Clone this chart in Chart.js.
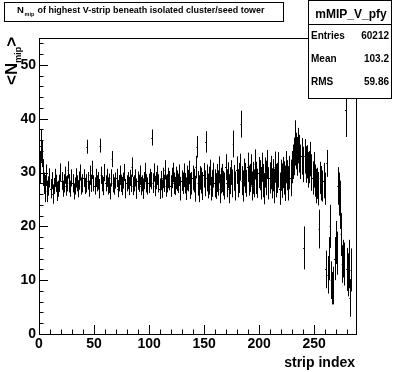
<!DOCTYPE html>
<html>
<head>
<meta charset="utf-8">
<script src="https://cdn.jsdelivr.net/npm/chart.js@4"></script>
<style>
html, body { margin: 0; padding: 0; background: #fff; }
canvas { display: block; }
</style>
</head>
<body>
<canvas id="chart" width="396" height="372"></canvas>
<script>
// profile: mean N_mip per strip (bin i -> strip i .. i+1)
const means = [
  31, 35, 33.5, 30, 28, 27, 29.5, 26.5, 27.5, 29,
  27, 28.5, 26, 27.5, 29, 28, 26.5, 27, 28, 30,
  28.5, 27, 28, 29.5, 27.5, 28, 30.5, 28, 27, 29,
  28, 26.5, 27.5, 29, 28, 27, 28.5, 30, 27.5, 28,
  29, 27.5, 28, 34.8, 28.5, 27, 29.5, 28, 30.5, 28,
  27.5, 29, 28, 28.5, 27, 35, 29.5, 28, 27.5, 30,
  28, 29, 27.5, 28, 26.5, 29, 32.5, 28, 27.5, 28.5,
  29, 27, 28, 29.5, 28, 27.5, 28.5, 30, 27, 28,
  28.5, 27.5, 29, 28, 31, 27.5, 28, 29, 27, 28.5,
  28, 29.5, 27.5, 28, 27, 28.5, 30, 28, 27.5, 28,
  29, 28.5, 36.5, 28, 30, 27.5, 28.5, 29.5, 28, 27,
  28.5, 27, 29, 28, 30.5, 27.5, 28, 29, 28.5, 27.5,
  29, 30, 28, 27.5, 29, 28.5, 28, 29.5, 27, 28.5,
  28, 29.5, 28, 27, 29, 28.5, 30, 27.5, 28, 29,
  28.5, 27, 31, 34.8, 28, 27, 29, 28.5, 27.5, 29.5,
  28, 35.7, 29, 27.5, 28.5, 30, 27, 28, 29.5, 28,
  27.5, 29, 28, 30.5, 27, 28.5, 29, 28, 27.5, 31,
  28, 29.5, 27, 28.5, 30, 28, 35.3, 29, 27.5, 30.5,
  28, 29, 31, 39, 28.5, 27.5, 30, 29, 28, 31,
  28.5, 29, 30.5, 27.5, 29, 28, 31.5, 29, 28, 30,
  29.5, 28, 31, 28.5, 27, 30, 29, 31.5, 28, 29,
  30, 28, 29.5, 27.5, 31, 28.5, 29, 30.5, 27, 29.5,
  28.5, 30, 29, 28, 31, 29.5, 28, 30, 29, 31,
  32, 33, 35.5, 34, 33, 35, 33.5, 32, 33, 31.5,
  16, 33, 31.5, 32, 30.5, 31, 32.5, 30, 29, 30.5,
  28.5, 27.5, 28, 27, 19.5, 29, 28, 27.5, 28.5, 27,
  12, 31.7, 11, 14, 20, 10, 8.5, 9, 14, 17,
  15, 27.5, 26, 24, 18.5, 13, 14, 13, 41.6, 12,
  11, 13, 6.7, 11.9
];
const errs = [
  3, 3, 2.5, 2.5, 2, 2.5, 2, 2, 1.8, 1.8,
  1.8, 1.6, 1.8, 1.5, 1.7, 1.6, 1.8, 1.5, 1.6, 1.7,
  1.6, 1.5, 1.7, 1.6, 1.8, 1.5, 1.6, 1.7, 1.5, 1.6,
  1.7, 1.5, 1.6, 1.8, 1.5, 1.6, 1.7, 1.5, 1.6, 1.7,
  1.6, 1.5, 1.7, 1.3, 1.6, 1.5, 1.8, 1.6, 1.7, 1.5,
  1.6, 1.7, 1.5, 1.6, 1.8, 1.3, 1.6, 1.5, 1.7, 1.6,
  1.5, 1.7, 1.6, 1.8, 1.5, 1.6, 1.5, 1.7, 1.6, 1.5,
  1.7, 1.6, 1.5, 1.8, 1.6, 1.7, 1.5, 1.6, 1.8, 1.5,
  1.6, 1.7, 1.5, 1.6, 1.8, 1.7, 1.5, 1.6, 1.9, 1.7,
  1.6, 1.8, 1.7, 1.5, 1.9, 1.6, 1.8, 1.7, 1.6, 1.8,
  1.7, 1.6, 1.5, 1.8, 1.7, 1.9, 1.6, 1.8, 1.7, 1.9,
  1.8, 1.7, 1.9, 1.6, 1.8, 2, 1.7, 1.9, 1.8, 2,
  1.9, 1.8, 2, 1.7, 2.1, 1.9, 1.8, 2, 2.2, 1.9,
  2, 2.2, 1.9, 2.1, 2.3, 2, 2.2, 2.4, 2.1, 2.3,
  2.2, 2.4, 2.1, 2, 2.3, 2.5, 2.2, 2.4, 2.6, 2.3,
  2.4, 2, 2.5, 2.3, 2.6, 2.4, 2.2, 2.5, 2.3, 2.6,
  2.4, 2.6, 2.3, 2.5, 2.7, 2.4, 2.6, 2.3, 2.5, 2.4,
  2.6, 2.4, 2.7, 2.5, 2.3, 2.6, 2.5, 2.4, 2.7, 2.5,
  2.6, 2.8, 2.5, 2.5, 2.7, 2.9, 2.6, 2.8, 2.5, 2.7,
  2.8, 2.6, 2.9, 2.7, 3, 2.6, 2.8, 3, 2.7, 2.9,
  2.8, 3, 2.7, 3.1, 2.9, 2.8, 3.2, 2.7, 3, 2.9,
  3.1, 2.8, 3, 3.2, 2.9, 3.1, 2.8, 3.3, 3, 2.9,
  3.2, 2.9, 3.1, 3.3, 3, 2.8, 3.2, 3.1, 3.4, 3,
  3.2, 3.5, 4.2, 3.4, 3.6, 3.3, 3.5, 3.2, 3.4, 3.3,
  4, 3.2, 3.4, 3.1, 3.3, 3, 3.2, 3.4, 3.1, 3.3,
  3, 3.2, 2.9, 3.1, 3.6, 3, 3.2, 2.9, 3.3, 3,
  3.5, 2.5, 3.5, 4, 4, 3.5, 3, 3.5, 4, 4,
  4, 3.5, 4, 4.5, 4, 3.5, 3.5, 4, 5, 4,
  4, 4.5, 3.5, 4
];
const xTicks = [0, 50, 100, 150, 200, 250];
const yTicks = [0, 10, 20, 30, 40, 50];
const statsLabels = ["Entries", "Mean", "RMS"];
const statsValues = ["60212", "103.2", "59.86"];

const FONT = "'Liberation Sans', Arial, Helvetica, sans-serif";

// bin centres
const points = means.map((m, i) => ({ x: i + 0.5, y: m }));

// ROOT-like frame, inward ticks, error bars and boxes
const rootStyle = {
  id: "rootStyle",
  afterDatasetsDraw(chart) {
    const ctx = chart.ctx;
    const a = chart.chartArea;
    const xs = chart.scales.x, ys = chart.scales.y;
    ctx.save();
    ctx.strokeStyle = "#000";
    ctx.lineWidth = 1;

    // error bars
    ctx.beginPath();
    means.forEach((m, i) => {
      const px = Math.round(xs.getPixelForValue(i + 0.5)) + 0.5;
      const y1 = ys.getPixelForValue(Math.max(0, m - errs[i]));
      const y2 = ys.getPixelForValue(m + errs[i]);
      ctx.moveTo(px, y1);
      ctx.lineTo(px, y2);
      const py = Math.round(ys.getPixelForValue(m)) + 0.5;
      ctx.moveTo(xs.getPixelForValue(i), py);
      ctx.lineTo(xs.getPixelForValue(i + 1), py);
    });
    ctx.stroke();

    // frame
    ctx.strokeRect(Math.round(a.left) + 0.5, Math.round(a.top) + 0.5,
      Math.round(a.right - a.left), Math.round(a.bottom - a.top));

    // ticks
    ctx.beginPath();
    for (let v = 0; v <= 288; v += 10) {
      const px = Math.round(xs.getPixelForValue(v)) + 0.5;
      const len = v % 50 === 0 ? 9 : 4.5;
      ctx.moveTo(px, a.bottom);
      ctx.lineTo(px, a.bottom - len);
    }
    for (let v = 0; v <= 55; v += 2) {
      const py = Math.round(ys.getPixelForValue(v)) + 0.5;
      const len = v % 10 === 0 ? 9 : 4.5;
      ctx.moveTo(a.left, py);
      ctx.lineTo(a.left + len, py);
    }
    ctx.stroke();
    ctx.restore();
  },
  afterDraw(chart) {
    const ctx = chart.ctx;
    ctx.save();
    ctx.fillStyle = "#000";
    ctx.strokeStyle = "#000";
    ctx.lineWidth = 1;
    ctx.textBaseline = "alphabetic";

    // title box
    ctx.strokeRect(4.5, 2.5, 279, 19);
    ctx.font = "bold 9.5px " + FONT;
    ctx.textAlign = "left";
    ctx.fillText("N", 17, 12.5);
    ctx.font = "bold 5.5px " + FONT;
    ctx.fillText("mip", 24.5, 16);
    ctx.font = "bold 9.5px " + FONT;
    const t = "of highest V-strip beneath isolated cluster/seed tower";
    const w = ctx.measureText(t).width;
    ctx.save();
    ctx.translate(37.5, 12.5);
    ctx.scale(227 / w, 1);
    ctx.fillText(t, 0, 0);
    ctx.restore();

    // stats box
    ctx.fillStyle = "#fff";
    ctx.fillRect(308.5, 0.5, 83, 98);
    ctx.fillStyle = "#000";
    ctx.strokeRect(308.5, 0.5, 83, 98);
    ctx.beginPath();
    ctx.moveTo(308.5, 24.5);
    ctx.lineTo(391.5, 24.5);
    ctx.stroke();
    ctx.font = "bold 12px " + FONT;
    ctx.textAlign = "center";
    ctx.fillText("mMIP_V_pfy", 351, 18);
    ctx.font = "bold 10px " + FONT;
    const rowY = [39, 62, 85];
    statsLabels.forEach((lab, i) => {
      ctx.textAlign = "left";
      ctx.fillText(lab, 311, rowY[i]);
      ctx.textAlign = "right";
      ctx.fillText(statsValues[i], 389, rowY[i]);
    });

    // axis titles
    ctx.font = "bold 14px " + FONT;
    ctx.textAlign = "right";
    ctx.fillText("strip index", 355, 367);

    ctx.save();
    ctx.translate(17, 85);
    ctx.rotate(-Math.PI / 2);
    ctx.textAlign = "left";
    ctx.font = "bold 17px " + FONT;
    ctx.fillText("<N", 0, 0);
    let off = ctx.measureText("<N").width;
    ctx.font = "bold 9px " + FONT;
    ctx.fillText("mip", off, 4);
    off += ctx.measureText("mip").width;
    ctx.font = "bold 17px " + FONT;
    ctx.fillText(">", off, 0);
    ctx.restore();

    ctx.restore();
  }
};

new Chart(document.getElementById("chart"), {
  type: "scatter",
  data: {
    datasets: [{
      data: points,
      pointRadius: 0,
      showLine: false,
      borderColor: "#000",
      backgroundColor: "#000"
    }]
  },
  options: {
    responsive: false,
    animation: false,
    devicePixelRatio: 1,
    layout: { padding: { top: 38, right: 40, left: 0, bottom: 0 } },
    plugins: { legend: { display: false }, tooltip: { enabled: false } },
    scales: {
      x: {
        type: "linear",
        min: 0,
        max: 288,
        grid: { display: false, drawTicks: false },
        border: { display: false },
        afterBuildTicks: s => { s.ticks = xTicks.map(v => ({ value: v })); },
        afterFit: s => { s.height = 38; },
        ticks: {
          padding: 2,
          maxRotation: 0,
          color: "#000",
          font: { family: FONT, size: 14, weight: "bold" }
        }
      },
      y: {
        min: 0,
        max: 55,
        grid: { display: false, drawTicks: false },
        border: { display: false },
        afterBuildTicks: s => { s.ticks = yTicks.map(v => ({ value: v })); },
        afterFit: s => { s.width = 39; },
        ticks: {
          padding: 3,
          color: "#000",
          font: { family: FONT, size: 14, weight: "bold" }
        }
      }
    }
  },
  plugins: [rootStyle]
});
</script>
</body>
</html>
